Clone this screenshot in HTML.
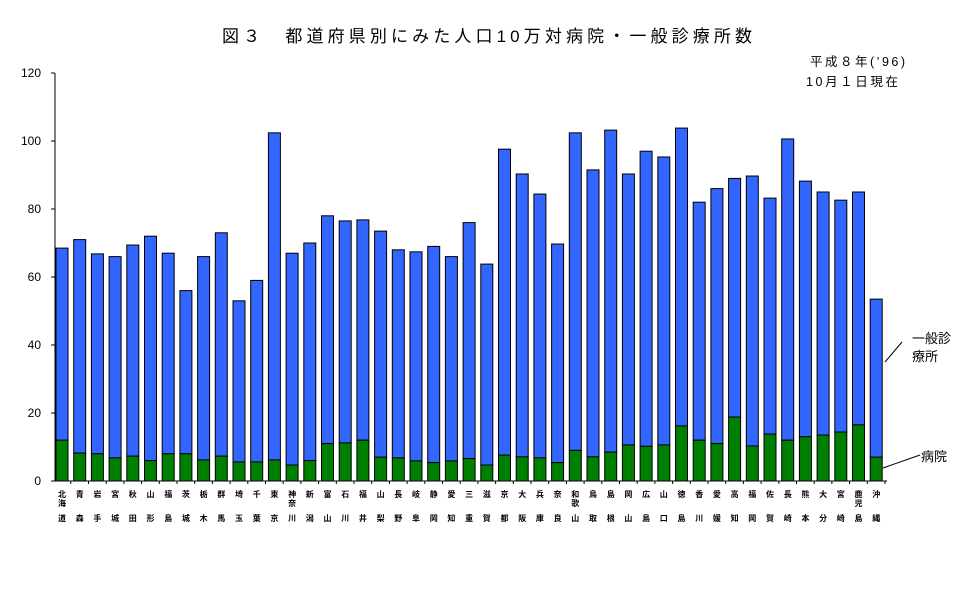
<!DOCTYPE html>
<html><head><meta charset="utf-8"><style>
body{margin:0;background:#fff;}
svg{display:block;font-family:"Liberation Sans","Noto Sans CJK JP",sans-serif;}
</style></head><body>
<svg id="chart" width="970" height="604" viewBox="0 0 970 604" xmlns="http://www.w3.org/2000/svg">
<text x="487" y="42" text-anchor="middle" font-size="17" textLength="530" lengthAdjust="spacing">図３　都道府県別にみた人口10万対病院・一般診療所数</text>
<text x="810" y="66" font-size="12.5" textLength="95">平成８年(’96)</text>
<text x="806" y="86" font-size="12.5" textLength="92">10月１日現在</text>
<g id="axes"></g>
<g id="bars"></g>
<g id="xlabels"></g>
<line x1="885" y1="362" x2="902" y2="342" stroke="#000" stroke-width="1"/>
<text x="912" y="343" font-size="13">一般診</text>
<text x="912" y="361" font-size="13">療所</text>
<line x1="883" y1="468" x2="920" y2="455" stroke="#000" stroke-width="1"/>
<text x="921" y="461" font-size="13">病院</text>
</svg>
<script>
const prefectures=["北海道","青森","岩手","宮城","秋田","山形","福島","茨城","栃木","群馬","埼玉","千葉","東京","神奈川","新潟","富山","石川","福井","山梨","長野","岐阜","静岡","愛知","三重","滋賀","京都","大阪","兵庫","奈良","和歌山","鳥取","島根","岡山","広島","山口","徳島","香川","愛媛","高知","福岡","佐賀","長崎","熊本","大分","宮崎","鹿児島","沖縄"];
const totals=[68.5,71,66.8,66,69.4,72,67,56,66,73,53,59,102.4,67,70,78,76.5,76.8,73.5,68,67.4,69,66,76,63.8,97.6,90.3,84.4,69.7,102.4,91.5,103.2,90.3,97,95.3,103.8,82,86,89,89.7,83.2,100.6,88.2,85,82.6,85,53.5];
const hospitals=[12,8.2,8,6.8,7.3,6,8,8,6.2,7.3,5.6,5.6,6.2,4.7,6,11,11.2,12,7,6.8,5.9,5.4,5.9,6.6,4.7,7.6,7.1,6.8,5.4,9,7.1,8.5,10.6,10.2,10.6,16.2,12,11,18.8,10.3,13.8,12,13,13.5,14.4,16.5,7];
const yTicks=[0,20,40,60,80,100,120];
const NS="http://www.w3.org/2000/svg";
const y0=481,yTop=73,yMax=120;
const y=v=>y0-(v/yMax)*(y0-yTop);
const x=i=>56+i*17.7;
const bw=12;
function mk(tag,attrs,parent){const e=document.createElementNS(NS,tag);for(const k in attrs)e.setAttribute(k,attrs[k]);parent.appendChild(e);return e;}
const axes=document.getElementById('axes');
let l=mk('line',{x1:55,y1:yTop,x2:55,y2:y0,stroke:'#000'},axes);


l=mk('line',{x1:55,y1:y0,x2:887,y2:y0,stroke:'#000'},axes);


yTicks.forEach(t=>{
  const tk=mk('line',{x1:51,y1:y(t),x2:55,y2:y(t),stroke:'#000'},axes);
  
  
  const tx=mk('text',{x:41,y:y(t)+4,'text-anchor':'end','font-size':12},axes);
  tx.textContent=t;
  
  
});
const bars=document.getElementById('bars');
const xl=document.getElementById('xlabels');
prefectures.forEach((p,i)=>{
  const bx=x(i);
  const r1=mk('rect',{x:bx,y:y(totals[i]),width:bw,height:y(hospitals[i])-y(totals[i]),fill:'#3366ff',stroke:'#000','stroke-width':1},bars);
  
  
  const r2=mk('rect',{x:bx,y:y(hospitals[i]),width:bw,height:y0-y(hospitals[i]),fill:'#008000',stroke:'#000','stroke-width':1},bars);
  
  
  const tk=mk('line',{x1:bx+bw+2.8,y1:y0,x2:bx+bw+2.8,y2:y0+3,stroke:'#000'},axes);
  
  
  const chars=[...p];
  const pos=chars.length===3?[497,506,521]:[497,521];
  chars.forEach((c,j)=>{
    const t=mk('text',{x:bx+bw/2,y:pos[j],'text-anchor':'middle','font-size':8,'font-weight':'bold'},xl);
    t.textContent=c;
    
    
  });
});
</script>
</body></html>
